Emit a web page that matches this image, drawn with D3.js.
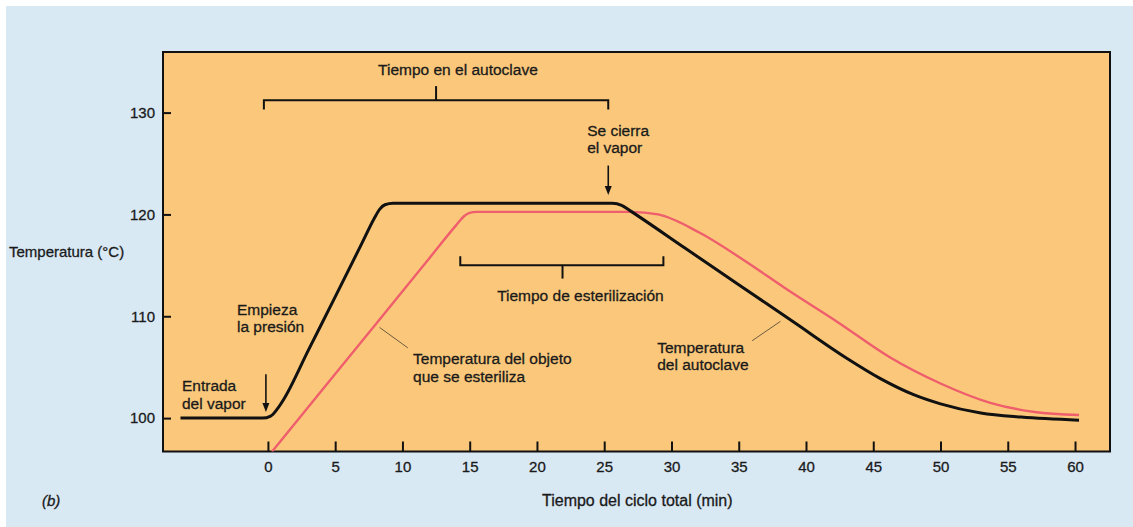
<!DOCTYPE html>
<html>
<head>
<meta charset="utf-8">
<script src="https://cdn.jsdelivr.net/npm/d3@7"></script>
<style>
  html, body { margin: 0; padding: 0; background: #ffffff; }
  svg { display: block; font-family: "Liberation Sans", Arial, sans-serif; }
</style>
</head>
<body>
<svg id="chart" width="1133" height="527"></svg>
<script>
// autoclave temperature (black) and object temperature (pink): [minutes, °C]
const autoclaveTemp = [
  [-6.5, 100.0], [-3.0, 100.0], [-0.4, 100.0], [0.2, 100.2], [0.7, 100.9],
  [1.2, 101.9], [3.0, 106.65], [5.0, 111.9], [7.0, 117.2], [7.9, 119.6],
  [8.3, 120.5], [8.7, 120.95], [9.3, 121.1], [17.0, 121.1], [25.6, 121.1],
  [26.3, 120.9], [27.0, 120.3], [31.0, 116.7], [35.0, 113.1], [39.0, 109.5],
  [43.0, 105.9], [45.5, 103.9], [48.0, 102.3], [50.0, 101.4], [53.0, 100.5],
  [56.0, 100.1], [60.3, 99.8]
];
const objectTemp = [
  [0.3, 96.7], [4.0, 102.7], [8.0, 109.2], [12.0, 115.7], [14.0, 118.95],
  [14.6, 119.85], [15.0, 120.15], [15.5, 120.25], [21.0, 120.25], [27.0, 120.25],
  [29.0, 120.0], [32.1, 118.2], [35.5, 115.4], [38.4, 112.8], [42.5, 109.3],
  [46.2, 106.0], [50.0, 103.4], [53.7, 101.5], [57.0, 100.6], [60.3, 100.3]
];
const xTicks = [0, 5, 10, 15, 20, 25, 30, 35, 40, 45, 50, 55, 60];
const yTicks = [100, 110, 120, 130];

// brackets: [from, to, level, endTickTo, middle, middleTickTo]
const autoclaveBracket = [-0.3, 25.3, 131.2, 130.3, 12.5, 132.6];
const sterilBracket = [14.3, 29.4, 115.0, 115.9, 21.9, 113.7];
// arrows: [minute, fromTemp, toTemp]
const pressureArrow = [-0.15, 104.3, 100.6];
const steamOffArrow = [25.3, 124.8, 121.9];
// leader lines: [[t1, v1], [t2, v2]]
const objectLeader = [[8.3, 108.9], [10.4, 106.9]];
const autoclaveLeader = [[36.0, 107.6], [38.1, 109.5]];
// labels: [minute, temp, lines]
const labels = [
  [8.19, 133.74, ["Tiempo en el autoclave"]],
  [23.73, 127.74, ["Se cierra", "el vapor"]],
  [-2.3, 110.13, ["Empieza", "la presión"]],
  [-6.39, 102.66, ["Entrada", "del vapor"]],
  [10.79, 105.31, ["Temperatura del objeto", "que se esteriliza"]],
  [28.94, 106.4, ["Temperatura", "del autoclave"]],
  [17.04, 111.51, ["Tiempo de esterilización"]]
];

const W = 1133, H = 527;
const plot = {left: 163, right: 1110, top: 52, bottom: 451.5};

const svg = d3.select("#chart");

svg.append("rect").attr("x", 6).attr("y", 6).attr("width", W - 6).attr("height", H - 6)
  .attr("fill", "#d9e9f4");

const x = d3.scaleLinear().domain([-7.8, 62.6]).range([plot.left, plot.right]);
const y = d3.scaleLinear().domain([96.72, 135.95]).range([plot.bottom, plot.top]);

svg.append("rect")
  .attr("x", plot.left).attr("y", plot.top)
  .attr("width", plot.right - plot.left).attr("height", plot.bottom - plot.top)
  .attr("fill", "#fbc87b");

svg.append("clipPath").attr("id", "clip")
  .append("rect")
  .attr("x", plot.left).attr("y", plot.top)
  .attr("width", plot.right - plot.left).attr("height", plot.bottom - plot.top);

// axes with inward ticks
const yAxis = svg.append("g")
  .attr("transform", `translate(${plot.left},0)`)
  .call(d3.axisLeft(y).tickValues(yTicks).tickSize(-8).tickPadding(8));
const xAxis = svg.append("g")
  .attr("transform", `translate(0,${plot.bottom})`)
  .call(d3.axisBottom(x).tickValues(xTicks).tickSize(-10).tickPadding(10));

[yAxis, xAxis].forEach(g => {
  g.select(".domain").remove();
  g.selectAll(".tick line").attr("stroke", "#111").attr("stroke-width", 2);
  g.selectAll(".tick text")
    .attr("fill", "#1a1a1a")
    .attr("stroke", "#1a1a1a")
    .attr("stroke-width", 0.3)
    .style("font-size", "15px")
    .style("font-family", "'Liberation Sans', Arial, sans-serif");
});

svg.append("rect")
  .attr("x", plot.left).attr("y", plot.top)
  .attr("width", plot.right - plot.left).attr("height", plot.bottom - plot.top)
  .attr("fill", "none")
  .attr("stroke", "#111")
  .attr("stroke-width", 2);

const line = d3.line()
  .x(d => x(d[0]))
  .y(d => y(d[1]))
  .curve(d3.curveMonotoneX);

const lines = svg.append("g").attr("clip-path", "url(#clip)");

lines.append("path")
  .datum(objectTemp)
  .attr("d", line)
  .attr("fill", "none")
  .attr("stroke", "#ee5e6c")
  .attr("stroke-width", 2.4)
  .attr("stroke-linejoin", "round");

lines.append("path")
  .datum(autoclaveTemp)
  .attr("d", line)
  .attr("fill", "none")
  .attr("stroke", "#111")
  .attr("stroke-width", 3)
  .attr("stroke-linejoin", "round");

// brackets
const ann = svg.append("g")
  .attr("fill", "none")
  .attr("stroke", "#111")
  .attr("stroke-width", 2);

[autoclaveBracket, sterilBracket].forEach(b => {
  const [a, c, lvl, endTo, mid, midTo] = b;
  ann.append("path")
    .attr("d", `M${x(a)},${y(endTo)}V${y(lvl)}H${x(c)}V${y(endTo)}`);
  ann.append("path")
    .attr("d", `M${x(mid)},${y(lvl)}V${y(midTo)}`);
});

// arrows
[pressureArrow, steamOffArrow].forEach(a => {
  const [t, from, to] = a;
  const px = x(t), y0 = y(from), y1 = y(to);
  ann.append("path")
    .attr("d", `M${px},${y0}V${y1 - 6}`)
    .attr("stroke-width", 1.6);
  ann.append("path")
    .attr("d", `M${px - 3.5},${y1 - 9}L${px},${y1}L${px + 3.5},${y1 - 9}Z`)
    .attr("fill", "#111")
    .attr("stroke", "none");
});

// leader lines
[objectLeader, autoclaveLeader].forEach(l => {
  ann.append("path")
    .attr("d", `M${x(l[0][0])},${y(l[0][1])}L${x(l[1][0])},${y(l[1][1])}`)
    .attr("stroke", "#6d5b3e")
    .attr("stroke-width", 1);
});

// text labels
const txt = svg.append("g")
  .attr("fill", "#1a1a1a")
  .attr("stroke", "#1a1a1a")
  .attr("stroke-width", 0.3)
  .style("font-size", "15.5px");

labels.forEach(l => {
  const t = txt.append("text")
    .attr("x", x(l[0]))
    .attr("y", y(l[1]));
  l[2].forEach((s, i) => {
    t.append("tspan")
      .attr("x", x(l[0]))
      .attr("dy", i === 0 ? 0 : 17.5)
      .text(s);
  });
});

txt.append("text")
  .attr("x", 9).attr("y", 257)
  .style("font-size", "15px")
  .text("Temperatura (°C)");

txt.append("text")
  .attr("x", 542).attr("y", 506)
  .style("font-size", "16px")
  .text("Tiempo del ciclo total (min)");

txt.append("text")
  .attr("x", 42).attr("y", 506)
  .style("font-style", "italic")
  .style("font-size", "15px")
  .text("(b)");
</script>
</body>
</html>
